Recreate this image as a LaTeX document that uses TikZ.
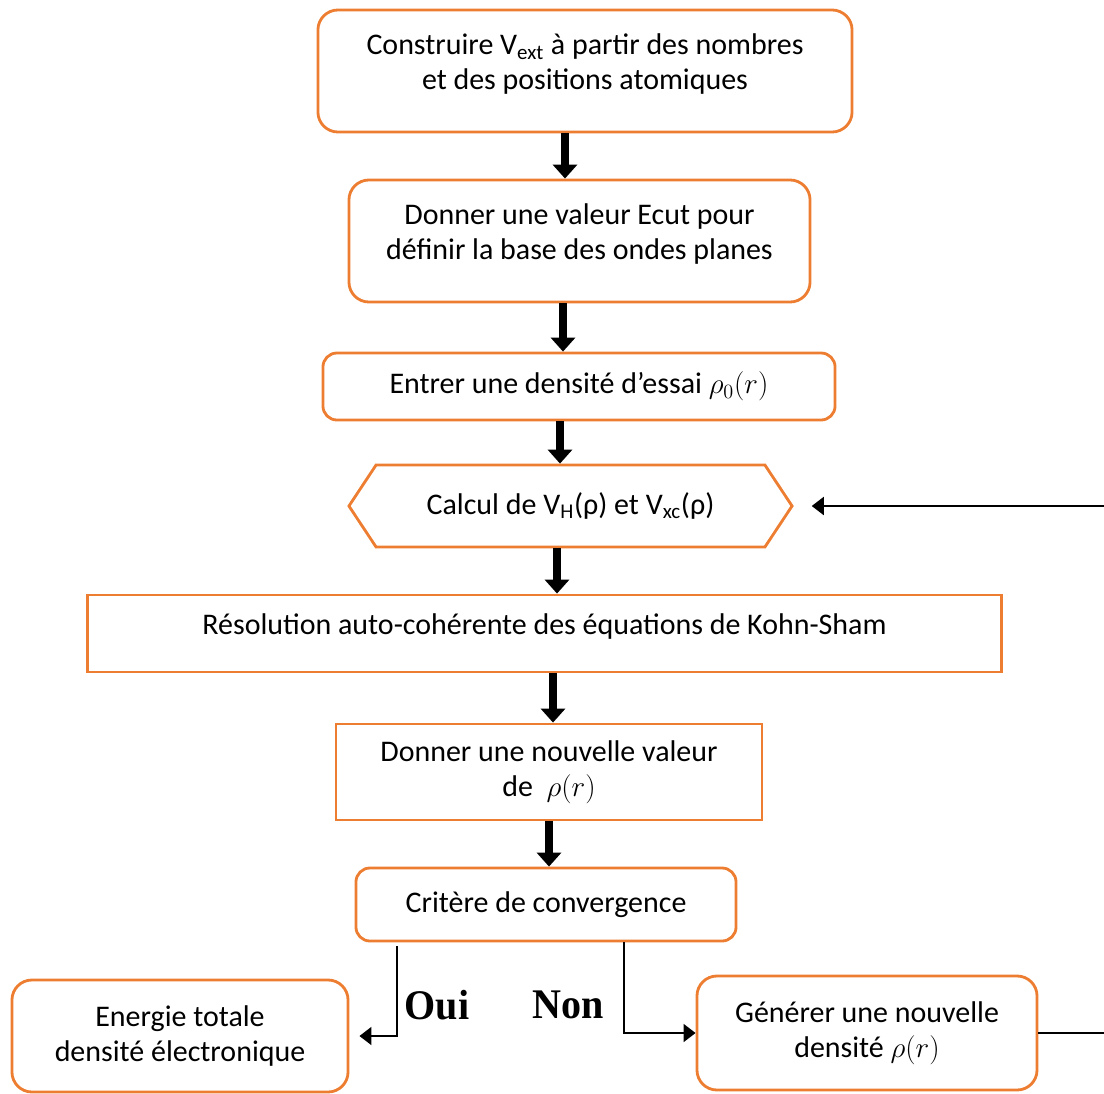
\documentclass[tikz,border=0pt]{standalone}
\usepackage{fontspec}
\setmainfont{Carlito}
\newfontfamily\labelfont{Liberation Serif}
\usepackage{tikz}
\usetikzlibrary{arrows.meta, shapes.geometric, shapes.symbols, positioning, calc}
\definecolor{boxorange}{RGB}{237,125,49}
\newcommand{\lowstrut}{\rule[-0.45cm]{0pt}{0pt}}

\tikzset{
	stepbox/.style={draw=boxorange, line width=2pt, fill=white, align=center,
		font=\fontsize{21.3}{25}\selectfont, inner sep=0pt},
	roundbox/.style={stepbox, rounded corners=0.5cm},
	bigarrow/.style={line width=5pt, -{Triangle[length=0.35cm,width=0.6cm]}},
	thinarrow/.style={line width=1.3pt, -{Triangle[length=0.3cm,width=0.45cm]}},
	answer/.style={font=\labelfont\bfseries\fontsize{30}{32}\selectfont, xscale=0.95}
}

\begin{document}
\begin{tikzpicture}[x=0.025cm, y=-0.025cm]
	\useasboundingbox (0,0) rectangle (1104,1093);
	\clip (0,0) rectangle (1104,1093);
	% steps
	\node[roundbox, minimum width=13.35cm, minimum height=3.05cm] (vext) at (585,71)
		{Construire V\textsubscript{ext} à partir des nombres\\et des positions atomiques\lowstrut};
	\node[roundbox, minimum width=11.525cm, minimum height=3.05cm] (ecut) at (579.5,241)
		{Donner une valeur Ecut pour\\définir la base des ondes planes\lowstrut};
	\node[stepbox, rounded corners=0.35cm, minimum width=12.8cm, minimum height=1.675cm] (rho0) at (579,386.5)
		{Entrer une densité d’essai $\rho_0(r)$};
	\node[stepbox, shape=signal, signal to=west and east, signal pointer angle=113,
		minimum width=11.075cm, minimum height=2.05cm] (calc) at (570.5,506)
		{Calcul de V\textsubscript{H}(ρ) et V\textsubscript{xc}(ρ)};
	\node[stepbox, minimum width=22.825cm, minimum height=1.925cm] (ks) at (544.5,633.5)
		{Résolution auto-cohérente des équations de Kohn-Sham\lowstrut};
	\node[stepbox, minimum width=10.65cm, minimum height=2.4cm] (newrho) at (549,772)
		{Donner une nouvelle valeur\\de~ $\rho(r)$};
	\node[roundbox, rounded corners=0.35cm, minimum width=9.5cm, minimum height=1.825cm] (crit) at (546,904.5)
		{Critère de convergence};
	\node[roundbox, minimum width=8.4cm, minimum height=2.8cm] (etot) at (180,1036)
		{Energie totale\\densité électronique};
	\node[roundbox, minimum width=8.5cm, minimum height=2.85cm] (gen) at (867,1033)
		{Générer une nouvelle\\densité $\rho(r)$};

	% main flow
	\draw[bigarrow] (vext.south -| 565,0) -- (ecut.north -| 565,0);
	\draw[bigarrow] (ecut.south -| 563,0) -- (rho0.north -| 563,0);
	\draw[bigarrow] (rho0.south -| 560,0) -- (calc.north -| 560,0);
	\draw[bigarrow] (calc.south -| 557,0) -- (ks.north -| 557,0);
	\draw[bigarrow] (ks.south -| 553,0) -- (newrho.north -| 553,0);
	\draw[bigarrow] (newrho.south -| 549,0) -- (crit.north -| 549,0);

	% decision
	\draw[thinarrow] ([yshift=-0.1cm]crit.south -| 397,0) |- ([xshift=0.25cm]etot.east);
	\draw[thinarrow] (crit.south -| 624,0) |- (gen.west);
	\node[answer] (oui) at (437,1005) {Oui};
	\node[answer] (non) at (568,1005) {Non};

	% loop back
	\draw[thinarrow] (gen.east) -- (1140,1033) |- ([xshift=0.45cm]calc.east);
\end{tikzpicture}
\end{document}
